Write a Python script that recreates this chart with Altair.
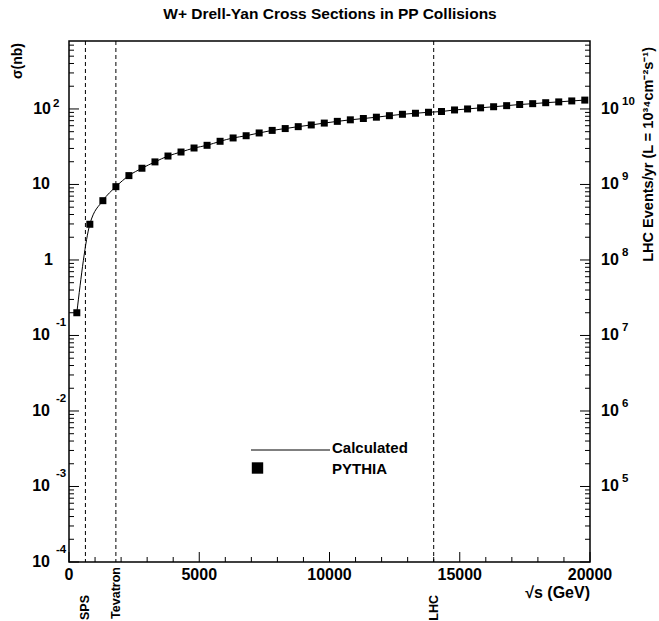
import altair as alt
import pandas as pd

W, H = 521, 521
FONT = "Liberation Sans"

# ---- data ----
sqrt_s_gev = [300, 800, 1300, 1800, 2300, 2800, 3300, 3800, 4300, 4800,
              5300, 5800, 6300, 6800, 7300, 7800, 8300, 8800, 9300, 9800,
              10300, 10800, 11300, 11800, 12300, 12800, 13300, 13800, 14300, 14800,
              15300, 15800, 16300, 16800, 17300, 17800, 18300, 18800, 19300, 19800]
sigma_nb = [0.20, 2.97, 6.1, 9.35, 13.1, 16.4, 19.9, 23.8, 26.9, 30.4,
            33.0, 37.3, 41.3, 44.2, 48.1, 52.0, 55.0, 58.3, 61.4, 65.0,
            68.5, 71.8, 74.7, 77.8, 81.5, 85.0, 87.7, 90.4, 92.5, 97.0,
            100.0, 103.5, 107.0, 110.6, 114.5, 117.5, 121.0, 124.0, 127.7, 131.0]

colliders = ["SPS", "Tevatron", "LHC"]
collider_energy = [630, 1800, 14000]

x_major = [0, 5000, 10000, 15000, 20000]
x_major_labels = ["0", "5000", "10000", "15000", "20000"]
x_minor = [v for v in range(1000, 20000, 1000) if v % 5000 != 0]

Y_TOP = 10 ** 2.9
y_decades = [1e-4, 1e-3, 1e-2, 1e-1, 1, 10, 100]
left_base = ["10", "10", "10", "10", "1", "10", "10"]
left_exp = ["-4", "-3", "-2", "-1", "", "", "2"]
right_vals = [1e-3, 1e-2, 1e-1, 1, 10, 100]
right_exp = ["5", "6", "7", "8", "9", "10"]
y_minor = [m * d for d in y_decades for m in range(2, 10) if m * d < Y_TOP]

title_text = "W+ Drell-Yan Cross Sections in PP Collisions"
ylabel = "σ(nb)"
ylabel_right = "LHC Events/yr (L = 10³⁴cm⁻²s⁻¹)"
xlabel = "√s (GeV)"
legend_labels = ["Calculated", "PYTHIA"]

# ---- scales ----
xs = alt.Scale(domain=[0, 20000], nice=False, zero=False)
ys = alt.Scale(type="log", domain=[1e-4, Y_TOP], nice=False)


def X(f):
    return alt.X(f, scale=xs, axis=None)


def Y(f):
    return alt.Y(f, scale=ys, axis=None)


def txt(**kw):
    base = dict(font=FONT, fontWeight="bold", color="black", baseline="middle")
    base.update(kw)
    return base


pts = pd.DataFrame({"x": sqrt_s_gev, "y": sigma_nb})
coll = pd.DataFrame({"name": colliders, "E": collider_energy})

layers = []

# curve and markers
layers.append(alt.Chart(pts).mark_line(color="black", strokeWidth=1, interpolate="monotone")
              .encode(x=X("x:Q"), y=Y("y:Q")))
layers.append(alt.Chart(pts).mark_square(color="black", size=49, opacity=1)
              .encode(x=X("x:Q"), y=Y("y:Q")))

# collider dashed lines
layers.append(alt.Chart(coll).mark_rule(color="black", strokeWidth=1, strokeDash=[4, 3])
              .encode(x=X("E:Q"), y=alt.value(0), y2=alt.value(H)))
layers.append(alt.Chart(coll[coll.name != "Tevatron"]).mark_text(**txt(angle=270, align="right", fontSize=12.5))
              .encode(x=X("E:Q"), y=alt.value(554), text="name:N"))
layers.append(alt.Chart(coll[coll.name == "Tevatron"]).mark_text(**txt(angle=270, align="right", fontSize=12.5))
              .encode(x=X("E:Q"), y=alt.value(526), text="name:N"))

# x ticks (inward)
layers.append(alt.Chart(pd.DataFrame({"v": x_major})).mark_rule(color="black", strokeWidth=1)
              .encode(x=X("v:Q"), y=alt.value(H), y2=alt.value(H - 10)))
layers.append(alt.Chart(pd.DataFrame({"v": x_minor})).mark_rule(color="black", strokeWidth=1)
              .encode(x=X("v:Q"), y=alt.value(H), y2=alt.value(H - 5)))
layers.append(alt.Chart(pd.DataFrame({"v": x_major, "t": x_major_labels}))
              .mark_text(**txt(align="center", fontSize=16))
              .encode(x=X("v:Q"), y=alt.value(H + 13), text="t:N"))

# y ticks left and right (inward)
for x0, x1, vals in [(0, 10, y_decades), (0, 5, y_minor), (W - 10, W, y_decades), (W - 5, W, y_minor)]:
    layers.append(alt.Chart(pd.DataFrame({"v": vals})).mark_rule(color="black", strokeWidth=1)
                  .encode(y=Y("v:Q"), x=alt.value(x0), x2=alt.value(x1)))

# left labels
ldf = pd.DataFrame({"v": y_decades, "b": left_base, "e": left_exp})
neg = ldf[ldf.v < 1]
layers.append(alt.Chart(neg).mark_text(**txt(align="right", fontSize=16))
              .encode(y=Y("v:Q"), x=alt.value(-19), text="b:N"))
layers.append(alt.Chart(neg).mark_text(**txt(align="left", fontSize=11.5, dy=-12))
              .encode(y=Y("v:Q"), x=alt.value(-13), text="e:N"))
layers.append(alt.Chart(ldf[ldf.v == 1]).mark_text(**txt(align="right", fontSize=16))
              .encode(y=Y("v:Q"), x=alt.value(-16), text="b:N"))
layers.append(alt.Chart(ldf[ldf.v == 10]).mark_text(**txt(align="right", fontSize=16))
              .encode(y=Y("v:Q"), x=alt.value(-19), text="b:N"))
layers.append(alt.Chart(ldf[ldf.v == 100]).mark_text(**txt(align="right", fontSize=16))
              .encode(y=Y("v:Q"), x=alt.value(-18), text="b:N"))
layers.append(alt.Chart(ldf[ldf.v == 100]).mark_text(**txt(align="left", fontSize=11.5, dy=-5))
              .encode(y=Y("v:Q"), x=alt.value(-16), text="e:N"))

# right labels
rdf = pd.DataFrame({"v": right_vals, "b": ["10"] * len(right_vals), "e": right_exp})
layers.append(alt.Chart(rdf).mark_text(**txt(align="left", fontSize=16))
              .encode(y=Y("v:Q"), x=alt.value(W + 11), text="b:N"))
layers.append(alt.Chart(rdf).mark_text(**txt(align="left", fontSize=11.5, dy=-7))
              .encode(y=Y("v:Q"), x=alt.value(W + 32), text="e:N"))

# titles
layers.append(alt.Chart(pd.DataFrame({"t": [title_text]})).mark_text(**txt(align="center", fontSize=15.5))
              .encode(x=alt.value(261), y=alt.value(-27), text="t:N"))
layers.append(alt.Chart(pd.DataFrame({"t": [ylabel]})).mark_text(**txt(align="center", angle=270, fontSize=14))
              .encode(x=alt.value(-51), y=alt.value(20), text="t:N"))
layers.append(alt.Chart(pd.DataFrame({"t": [ylabel_right]})).mark_text(**txt(align="right", angle=270, fontSize=14.5))
              .encode(x=alt.value(580), y=alt.value(6), text="t:N"))
layers.append(alt.Chart(pd.DataFrame({"t": [xlabel]})).mark_text(**txt(align="right", fontSize=16))
              .encode(x=alt.value(W), y=alt.value(H + 31), text="t:N"))

# legend
leg = pd.DataFrame({"t": legend_labels, "k": [0, 1]})
layers.append(alt.Chart(leg).mark_rule(color="black", strokeWidth=1)
              .encode(x=alt.value(182), x2=alt.value(261), y=alt.value(409))
              .transform_filter("datum.k == 0"))
layers.append(alt.Chart(leg).mark_square(color="black", size=130, opacity=1)
              .encode(x=alt.value(188.5), y=alt.value(427))
              .transform_filter("datum.k == 1"))
layers.append(alt.Chart(leg).mark_text(**txt(align="left", fontSize=15))
              .encode(x=alt.value(263), y=alt.value(407), text="t:N")
              .transform_filter("datum.k == 0"))
layers.append(alt.Chart(leg).mark_text(**txt(align="left", fontSize=15))
              .encode(x=alt.value(263), y=alt.value(428), text="t:N")
              .transform_filter("datum.k == 1"))

chart = alt.layer(*layers).properties(
    width=W, height=H,
    autosize=alt.AutoSizeParams(type="none"),
    padding={"left": 69, "top": 41, "right": 69, "bottom": 59},
    background="white",
).configure_view(stroke="black", strokeWidth=1.5)

chart.save("out.html", embed_options={"renderer": "svg", "actions": False})
